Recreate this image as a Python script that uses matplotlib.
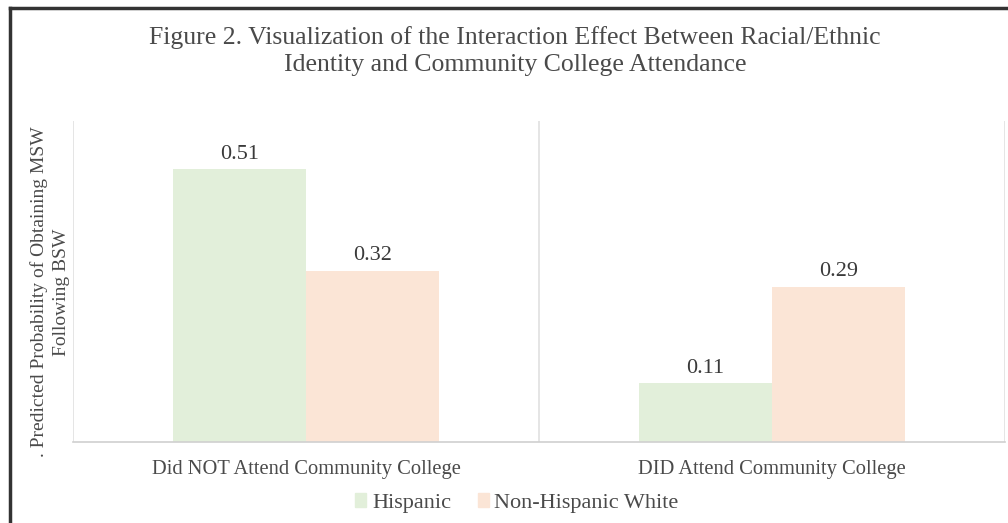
import matplotlib
matplotlib.use("Agg")
import matplotlib.pyplot as plt
from matplotlib.lines import Line2D
from matplotlib.patches import Patch
import numpy as np

categories = ["Did NOT Attend Community College", "DID Attend Community College"]
series_names = ["Hispanic", "Non-Hispanic White"]
hispanic = [0.51, 0.11]
non_hispanic_white = [0.32, 0.29]
colors = ["#e2efda", "#fbe5d6"]
title = "Figure 2. Visualization of the Interaction Effect Between Racial/Ethnic\nIdentity and Community College Attendance"
ylabel = ". Predicted Probability of Obtaining MSW\nFollowing BSW"

plt.rcParams['font.family'] = ['Liberation Serif', 'DejaVu Serif']
txt = "#4a4a4a"

fig = plt.figure(figsize=(10.08, 5.23), dpi=100)
ax = fig.add_axes([73/1008, 81/523, (1005-73)/1008, (442-121)/523])

x = np.arange(len(categories))
w = 0.286
for i, (vals, c, name) in enumerate(zip([hispanic, non_hispanic_white], colors, series_names)):
    offs = (i - 0.5) * w
    ax.bar(x + offs, vals, width=w, color=c, label=name, zorder=2)
    for xi, v in zip(x + offs, vals):
        ax.text(xi, v + 0.01, f"{v:.2f}", ha="center", va="bottom", fontsize=16, color="#3a3a3a")

ax.set_xlim(-0.5, 1.5)
ax.set_ylim(0, 0.6)
ax.set_yticks([])
ax.set_xticks(x)
ax.set_xticklabels(categories, fontsize=14.8, color=txt)
ax.tick_params(axis="x", length=0, pad=13)
for s in ["top", "right", "left"]:
    ax.spines[s].set_visible(False)
ax.spines["bottom"].set_color("#d0d0d0")
ax.spines["bottom"].set_linewidth(1.2)
for xv in [-0.5, 0.5, 1.5]:
    ax.axvline(xv, color="#e0e0e0", lw=1.2, zorder=1)

fig.text(0.511, 1 - 51/523, title, ha="center", va="center", fontsize=18.5, color=txt, linespacing=1.25)
fig.text(50/1008, 1 - 292/523, ylabel, ha="center", va="center", rotation=90, fontsize=14, color=txt, linespacing=1.4)

handles = [Patch(color=c) for c in colors]
fig.legend(handles, series_names, loc="center", bbox_to_anchor=(517/1008, 1 - 503/523), ncol=2, frameon=False,
           fontsize=16, handlelength=0.5, handleheight=0.55, handletextpad=0.25, columnspacing=1.2,
           labelcolor=txt)

fig.add_artist(Line2D([10/1008, 10/1008], [0, 1 - 8/523], transform=fig.transFigure, color="#333333", lw=2.5))
fig.add_artist(Line2D([10/1008, 1], [1 - 8/523, 1 - 8/523], transform=fig.transFigure, color="#333333", lw=2.5))

fig.savefig("out.png", dpi=100)
